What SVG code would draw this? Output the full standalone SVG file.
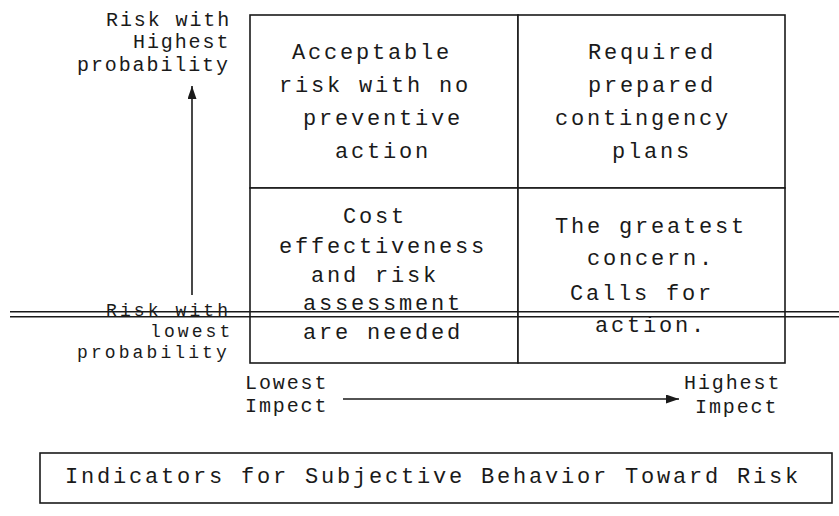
<svg xmlns="http://www.w3.org/2000/svg" width="839" height="516" viewBox="0 0 839 516">
<style>
  .cell{fill:#fff;stroke:#1a1a1a;stroke-width:1.6}
  .t{font-family:"Liberation Mono","Courier New",monospace;fill:#1a1a1a}
  .c{font-size:22px;letter-spacing:2.8px}
  .l{font-size:20px;letter-spacing:1.9px}
  .s{font-size:18px;letter-spacing:3.1px}
  .ln{stroke:#1a1a1a;stroke-width:1.6;fill:none}
</style>
<defs>
  <marker id="ah" viewBox="0 0 13 9" refX="13" refY="4.5" markerWidth="13" markerHeight="9" markerUnits="userSpaceOnUse" orient="auto">
    <path d="M0,0 L13,4.5 L0,9 z" fill="#1a1a1a"/>
  </marker>
</defs>
<rect width="839" height="516" fill="#fff"/>

<g id="cell-top-left">
  <rect class="cell" x="250" y="15" width="268" height="173"/>
  <text class="t c" x="292" y="59">Acceptable</text>
  <text class="t c" x="279" y="92">risk with no</text>
  <text class="t c" x="303" y="125">preventive</text>
  <text class="t c" x="335" y="158">action</text>
</g>
<g id="cell-top-right">
  <rect class="cell" x="518" y="15" width="267" height="173"/>
  <text class="t c" x="588" y="59">Required</text>
  <text class="t c" x="588" y="92">prepared</text>
  <text class="t c" x="555" y="125">contingency</text>
  <text class="t c" x="612" y="158">plans</text>
</g>
<g id="cell-bottom-left">
  <rect class="cell" x="250" y="188" width="268" height="175"/>
  <text class="t c" x="343" y="223">Cost</text>
  <text class="t c" x="279" y="253">effectiveness</text>
  <text class="t c" x="311" y="282">and risk</text>
  <text class="t c" x="303" y="310">assessment</text>
  <text class="t c" x="303" y="339">are needed</text>
</g>
<g id="cell-bottom-right">
  <rect class="cell" x="518" y="188" width="267" height="175"/>
  <text class="t c" x="555" y="233">The greatest</text>
  <text class="t c" x="587" y="265">concern.</text>
  <text class="t c" x="570" y="300">Calls for</text>
  <text class="t c" x="595" y="332">action.</text>
</g>

<g id="label-high-probability">
  <text class="t l" x="106" y="26">Risk with</text>
  <text class="t l" x="133" y="48">Highest</text>
  <text class="t l" x="77" y="71">probability</text>
</g>
<g id="label-low-probability">
  <text class="t s" x="106" y="316">Risk with</text>
  <text class="t s" x="150" y="337">lowest</text>
  <text class="t s" x="77" y="358">probability</text>
</g>
<g id="label-lowest-impact">
  <text class="t l" x="245" y="389">Lowest</text>
  <text class="t l" x="245" y="412">Impect</text>
</g>
<g id="label-highest-impact">
  <text class="t l" x="684" y="389">Highest</text>
  <text class="t l" x="695" y="413">Impect</text>
</g>

<g id="title-box">
  <rect class="cell" x="40" y="453" width="792" height="50"/>
  <text class="t c" x="65" y="483">Indicators for Subjective Behavior Toward Risk</text>
</g>

<g id="double-rule">
  <line class="ln" x1="10" y1="311.7" x2="839" y2="311.7"/>
  <line class="ln" x1="10" y1="316.7" x2="839" y2="316.7"/>
</g>

<g id="connectors">
  <line class="ln" x1="192" y1="295" x2="192" y2="86" marker-end="url(#ah)"/>
  <line class="ln" x1="343" y1="399" x2="679" y2="399" marker-end="url(#ah)"/>
</g>
</svg>
